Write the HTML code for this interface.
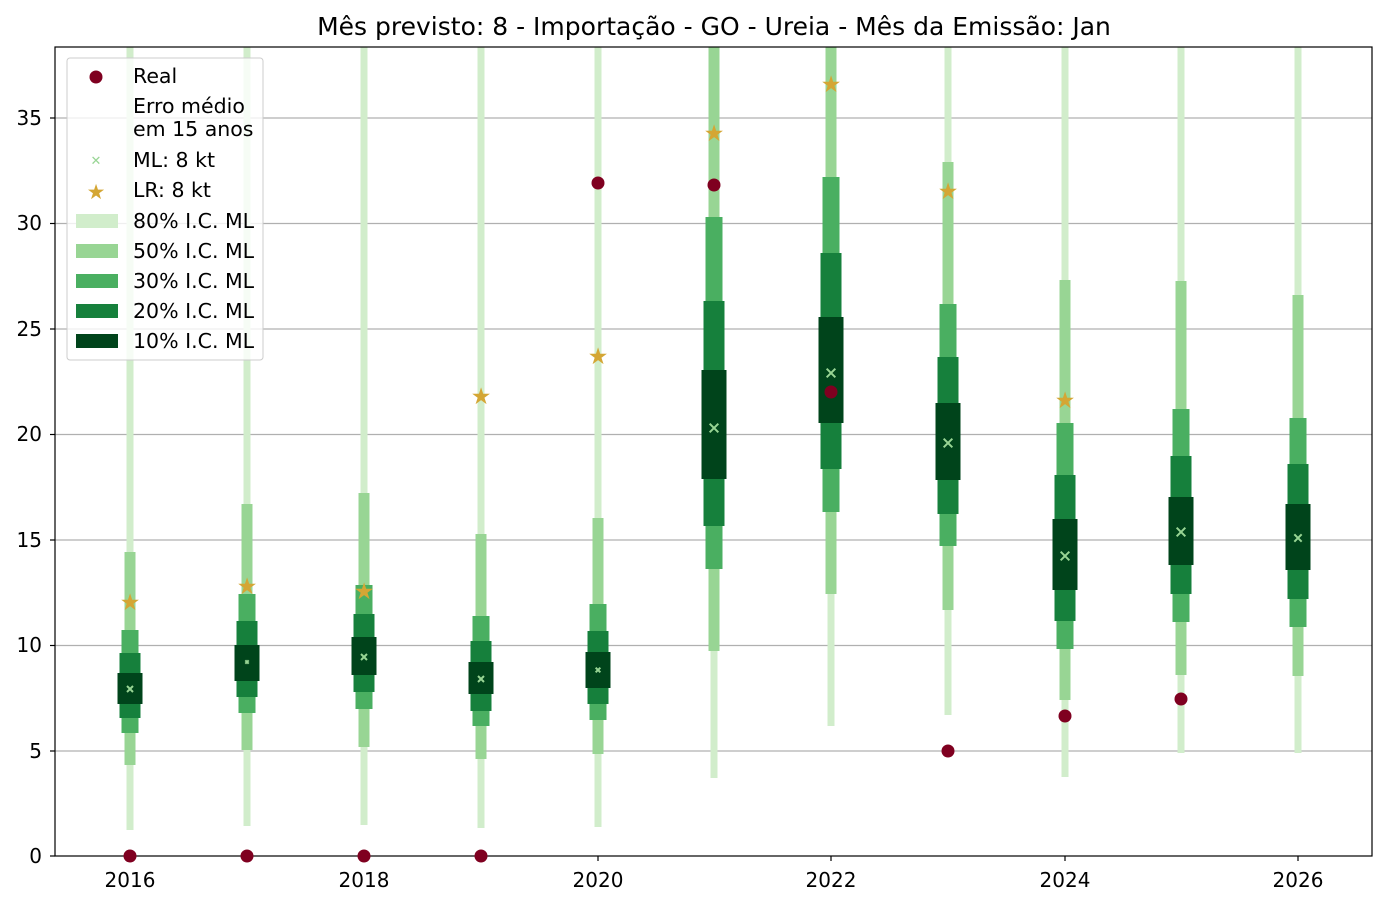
<!DOCTYPE html>
<html><head><meta charset="utf-8"><style>body{margin:0;background:#fff}svg{display:block;font-family:"DejaVu Sans","Liberation Sans",sans-serif}</style></head><body>
<svg width="1387" height="906" viewBox="0 0 1387 906" xmlns="http://www.w3.org/2000/svg">
<rect width="1387" height="906" fill="#fff"/>
<text x="714" y="35" font-size="25" text-anchor="middle" fill="#000">Mês previsto: 8 - Importação - GO - Ureia - Mês da Emissão: Jan</text>
<g stroke="#b0b0b0" stroke-width="1.2">
<line x1="55" x2="1372" y1="751" y2="751"/><line x1="55" x2="1372" y1="645.5" y2="645.5"/><line x1="55" x2="1372" y1="540" y2="540"/><line x1="55" x2="1372" y1="434.5" y2="434.5"/><line x1="55" x2="1372" y1="329" y2="329"/><line x1="55" x2="1372" y1="223.5" y2="223.5"/><line x1="55" x2="1372" y1="118" y2="118"/>
</g>
<g id="bars"></g>
<g fill="#000" font-size="20" text-anchor="end">
<text x="42" y="863">0</text><text x="42" y="758">5</text><text x="42" y="652">10</text><text x="42" y="547">15</text><text x="42" y="441">20</text><text x="42" y="336">25</text><text x="42" y="230">30</text><text x="42" y="125">35</text>
</g>
<g stroke="#000" stroke-width="1.2">
<line x1="50" x2="55" y1="856" y2="856"/><line x1="50" x2="55" y1="751" y2="751"/><line x1="50" x2="55" y1="645.5" y2="645.5"/><line x1="50" x2="55" y1="540" y2="540"/><line x1="50" x2="55" y1="434.5" y2="434.5"/><line x1="50" x2="55" y1="329" y2="329"/><line x1="50" x2="55" y1="223.5" y2="223.5"/><line x1="50" x2="55" y1="118" y2="118"/>
<line x1="130" x2="130" y1="856" y2="861"/><line x1="364" x2="364" y1="856" y2="861"/><line x1="598" x2="598" y1="856" y2="861"/><line x1="831" x2="831" y1="856" y2="861"/><line x1="1065" x2="1065" y1="856" y2="861"/><line x1="1298" x2="1298" y1="856" y2="861"/>
</g>
<g fill="#000" font-size="20" text-anchor="middle">
<text x="130" y="887">2016</text><text x="364" y="887">2018</text><text x="598" y="887">2020</text><text x="831" y="887">2022</text><text x="1065" y="887">2024</text><text x="1298" y="887">2026</text>
</g>
<rect x="55" y="47" width="1317" height="809" fill="none" stroke="#000" stroke-width="1.2"/>
<g font-size="20.5">
<rect x="67" y="58" width="196" height="302" rx="3" fill="#fff" fill-opacity="0.8" stroke="#ccc"/>
<circle cx="96" cy="77" r="6.5" fill="#7f0020"/>
<text x="133" y="83">Real</text>
<text x="133" y="113">Erro médio</text>
<text x="133" y="136">em 15 anos</text>
<text x="96" y="165" font-size="13" fill="#98d594" text-anchor="middle">✕</text>
<text x="133" y="167">ML: 8 kt</text>
<text x="96" y="199" font-size="21" fill="#d4a634" text-anchor="middle">★</text>
<text x="133" y="197">LR: 8 kt</text>
<rect x="76" y="214" width="42" height="14" fill="#d1edcb"/><text x="133" y="228">80% I.C. ML</text>
<rect x="76" y="244" width="42" height="14" fill="#98d594"/><text x="133" y="258">50% I.C. ML</text>
<rect x="76" y="274" width="42" height="14" fill="#4aaf61"/><text x="133" y="288">30% I.C. ML</text>
<rect x="76" y="304" width="42" height="14" fill="#16803c"/><text x="133" y="318">20% I.C. ML</text>
<rect x="76" y="334" width="42" height="14" fill="#00441b"/><text x="133" y="348">10% I.C. ML</text>
</g>
<g id="pts"></g>
<script>
var d=[
[130,[47,830],[552,765],[630,733],[653,718],[673,704],689,602,856,9],
[247,[47,826],[504,750],[594,713],[621,697],[645,681],662,586,856,5],
[364,[47,825],[493,747],[585,709],[614,692],[637,675],657,591,856,9],
[481,[47,828],[534,759],[616,726],[641,711],[662,694],679,396,856,9],
[598,[47,827],[518,754],[604,720],[631,704],[652,688],670,356,183,7],
[714,[47,778],[47,651],[217,569],[301,526],[370,479],428,133,185,13],
[831,[47,726],[47,594],[177,512],[253,469],[317,423],373,84,392,13],
[948,[47,715],[162,610],[304,546],[357,514],[403,480],443,191,751,13],
[1065,[47,777],[280,700],[423,649],[475,621],[519,590],556,400,716,13],
[1181,[47,753],[281,675],[409,622],[456,594],[497,565],532,null,699,13],
[1298,[47,753],[295,676],[418,627],[464,599],[504,570],538,null,null,11]];
var col=["#d1edcb","#98d594","#4aaf61","#16803c","#00441b"],w=[7,11,17,21,25];
var ns="http://www.w3.org/2000/svg",b=document.getElementById("bars"),p=document.getElementById("pts");
function el(t,a,par){var e=document.createElementNS(ns,t);for(var k in a)e.setAttribute(k,a[k]);par.appendChild(e);return e;}
d.forEach(function(r){var x=r[0];
for(var i=0;i<5;i++){var y=r[i+1];el("rect",{x:x-w[i]/2,y:y[0],width:w[i],height:y[1]-y[0],fill:col[i]},b);}
var s=r[9]/1.5,ym=r[6];
el("path",{d:"M"+(x-s/2)+" "+(ym-s/2)+"L"+(x+s/2)+" "+(ym+s/2)+"M"+(x+s/2)+" "+(ym-s/2)+"L"+(x-s/2)+" "+(ym+s/2),stroke:"#98d594","stroke-width":2},p);
if(r[7]!=null){var t=el("text",{x:x,y:r[7]+8,"font-size":23,fill:"#d4a634","text-anchor":"middle"},p);t.textContent="★";}
if(r[8]!=null)el("circle",{cx:x,cy:r[8],r:6.5,fill:"#7f0020"},p);
});
</script>
</svg>
</body></html>
